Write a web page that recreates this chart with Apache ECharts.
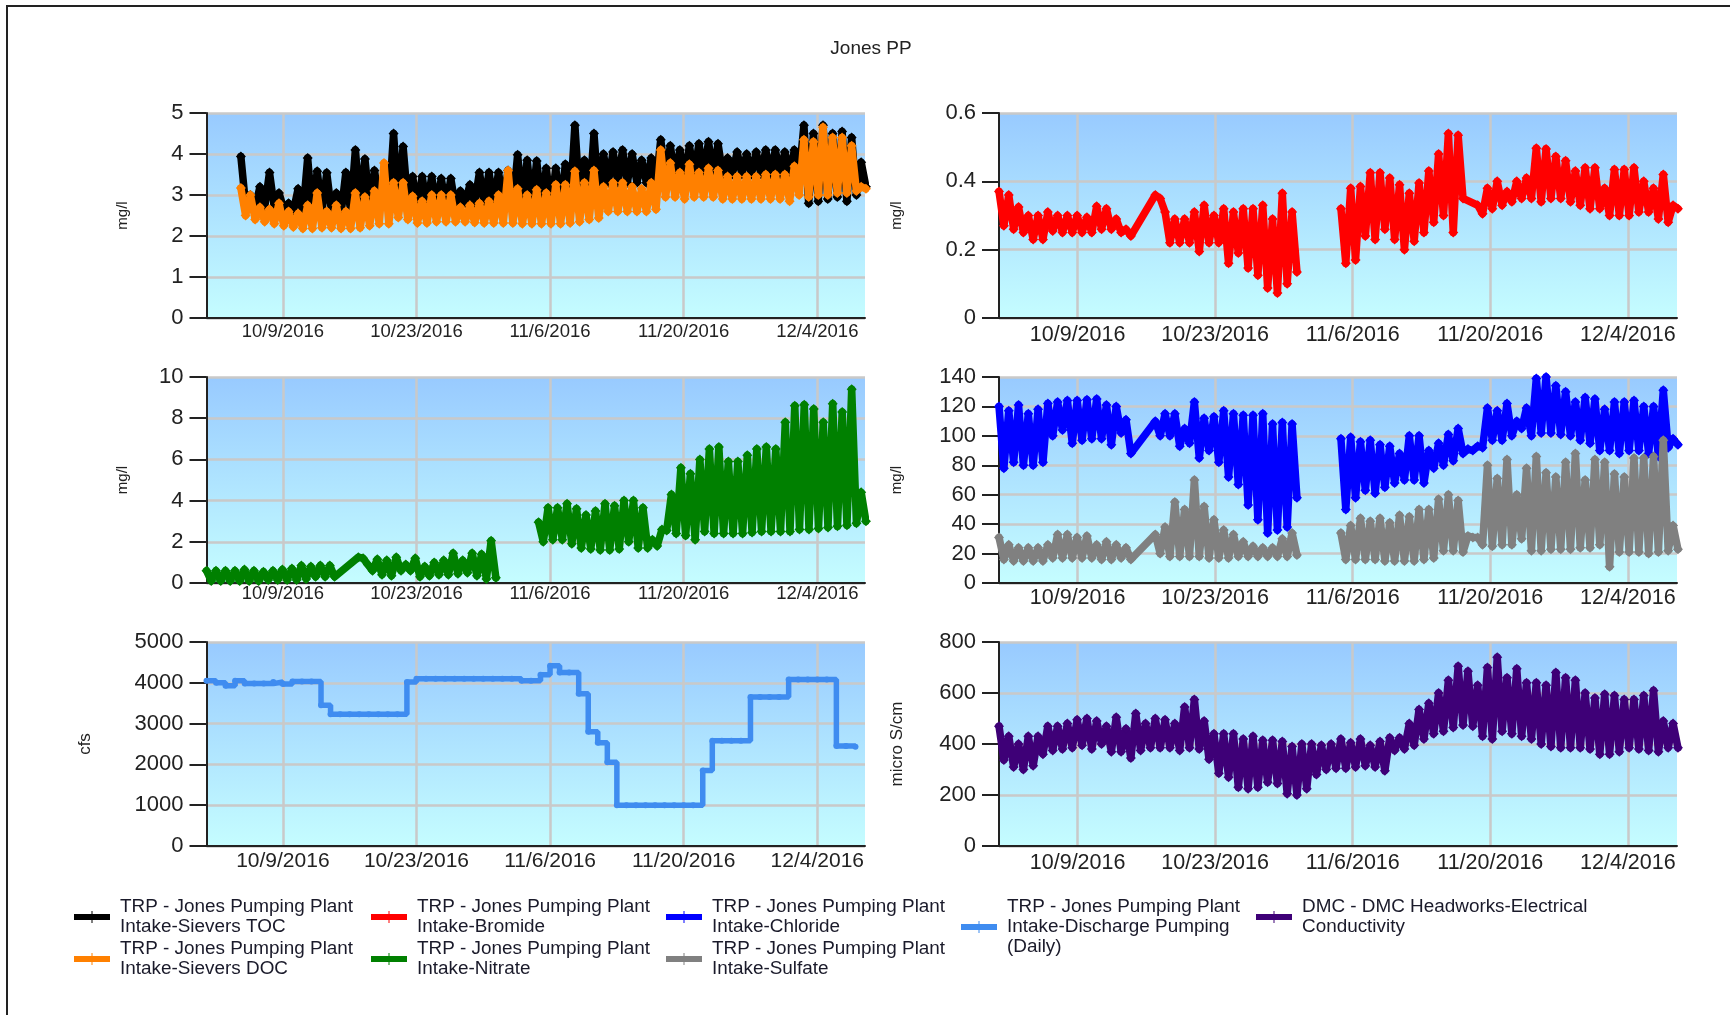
<!DOCTYPE html>
<html>
<head>
<meta charset="utf-8">
<style>html,body{margin:0;padding:0;background:#fff}#c{width:1730px;height:1015px}</style>
<script src="https://cdn.jsdelivr.net/npm/echarts@6/dist/echarts.min.js"></script>
</head>
<body>
<div id="c"></div>
<script>
// x positions are days after 10/1/2016
const xMax = 69;
const tickDays = [8, 22, 36, 50, 64];
const tickLabels = ['10/9/2016', '10/23/2016', '11/6/2016', '11/20/2016', '12/4/2016'];

// Daily peak and trough readings. null = no sample that day.
const tocHigh = [3.94,3.0,3.2,3.55,3.05,2.8,3.15,3.9,3.58,3.54,
 3.05,3.55,4.1,3.88,3.6,3.4,4.5,4.18,3.45,3.45,
 3.45,3.4,3.4,3.1,3.25,3.55,3.55,3.55,3.6,3.98,
 3.85,3.83,3.65,3.65,3.75,4.7,3.85,4.5,4.0,4.05,
 4.1,4.0,3.85,3.9,4.35,4.2,4.1,4.2,4.25,4.3,
 4.25,3.9,4.05,4.0,4.05,4.1,4.1,4.05,4.1,4.7,
 4.5,4.7,4.5,4.55,4.4,3.8];
const tocLow = [2.75,2.7,2.7,2.7,2.65,2.6,2.55,2.55,2.6,2.6,
 2.55,2.6,2.7,2.7,2.8,2.7,2.8,2.8,2.7,2.7,
 2.7,2.7,2.7,2.8,2.8,2.8,2.8,2.8,2.75,2.8,
 2.75,2.75,2.7,2.7,2.75,2.9,2.8,2.9,3.3,3.3,
 3.3,3.3,3.3,3.3,3.4,3.4,3.4,3.5,3.5,3.5,
 3.5,3.5,3.5,3.5,3.5,3.5,3.5,3.5,3.5,2.8,
 2.85,2.9,2.95,2.85,3.0,3.2];
const docHigh = [3.17,3.0,2.7,2.65,2.8,2.6,2.55,2.75,3.05,2.6,
 2.75,2.6,3.05,2.95,3.1,3.78,3.3,3.3,2.97,2.85,
 3.0,3.0,3.0,2.7,2.75,2.8,2.85,3.0,3.6,3.15,
 3.0,3.13,3.05,3.25,3.25,3.58,3.3,3.6,3.2,3.3,
 3.3,3.2,3.15,3.3,4.1,3.78,3.55,3.75,3.55,3.65,
 3.6,3.45,3.45,3.45,3.45,3.5,3.5,3.5,3.7,4.35,
 4.3,4.65,4.4,4.4,4.2,3.2];
const docLow = [2.5,2.4,2.35,2.3,2.25,2.22,2.18,2.18,2.2,2.2,
 2.18,2.18,2.2,2.25,2.3,2.3,2.45,2.4,2.32,2.32,
 2.35,2.35,2.35,2.35,2.33,2.32,2.32,2.32,2.32,2.3,
 2.3,2.3,2.3,2.3,2.32,2.35,2.4,2.44,2.6,2.6,
 2.6,2.6,2.6,2.65,2.95,2.95,2.9,2.95,2.95,2.95,
 2.9,2.9,2.9,2.9,2.9,2.9,2.9,2.85,3.0,2.95,
 3.0,3.0,3.05,3.05,3.1,3.15];

const bromideHigh = [.37,.36,.325,.30,.30,.31,.30,.30,.30,.295,
 .327,.32,.29,.26,null,null,.36,.31,.29,.29,
 .31,.33,.30,.32,.31,.32,.32,.33,.29,.365,
 .31,null,null,null,null,.32,.38,.385,.425,.425,
 .41,.39,.365,.395,.43,.48,.54,.535,null,.33,
 .38,.40,.37,.40,.41,.497,.495,.473,.46,.43,
 .44,.44,.38,.435,.435,.44,.40,.38,.42,.33];
const bromideLow = [.27,.26,.25,.23,.23,.255,.25,.25,.25,.25,
 .26,.26,.25,.24,null,null,.35,.22,.22,.22,
 .195,.22,.22,.16,.19,.146,.125,.088,.073,.10,
 .135,null,null,null,null,.16,.17,.24,.23,.26,
 .23,.20,.225,.25,.28,.30,.25,.35,null,.305,
 .32,.33,.34,.35,.35,.34,.35,.35,.34,.33,
 .32,.32,.30,.30,.30,.31,.31,.29,.28,.32];

const nitrateHigh = [.6,.6,.6,.6,.65,.6,.55,.6,.65,.7,
 .85,.8,.85,.85,null,null,1.25,.9,1.15,1.1,
 1.25,.9,1.2,.8,1.0,1.1,1.45,1.1,1.45,1.4,
 2.05,null,null,null,null,2.95,3.65,3.65,3.85,3.6,
 3.3,3.5,3.85,3.75,4.0,4.0,3.65,2.1,2.6,4.3,
 5.6,5.3,6.0,6.5,6.6,5.9,5.9,6.2,6.5,6.6,
 6.5,7.8,8.6,8.65,8.45,7.8,8.7,8.3,9.4,4.4];
const nitrateLow = [.1,.1,.1,.1,.1,.1,.15,.15,.15,.15,
 .2,.3,.3,.3,null,null,1.2,.6,.4,.35,
 .6,.6,.3,.35,.4,.4,.45,.5,.35,.2,
 .25,null,null,null,null,2.0,2.1,2.1,1.9,1.7,
 1.65,1.6,1.6,1.65,2.0,1.7,1.7,1.8,2.55,2.4,
 2.3,2.1,2.5,2.4,2.4,2.4,2.4,2.45,2.5,2.5,
 2.5,2.5,2.6,2.6,2.65,2.7,2.75,2.8,2.9,3.0];

const chlorideHigh = [120,117,121,115,118,122,123,124,124,124.5,
 125,121,120,111,null,null,110,115,115,105,
 123,112,113,117,115,114,114,115,108,109,
 108,null,null,null,null,98,99,96,97,94,
 93,88,100,100,90,95,101,105,91,93,
 119,117,122,110,119,139,140,134,130,123,
 126,125,118,123,123,124,120,120,131,98];
const chlorideLow = [78,82,80,80,82,100,104,95,97,98,
 98,94,102,88,null,null,100,100,93,95,
 85,90,82,72,67,53,43,34,36,38,
 58,null,null,null,null,50,58,63,61,65,
 68,70,70,68,78,80,83,88,90,92,
 97,97,100,105,100,102,102,101,100,97,
 95,90,90,88,90,90,88,86,92,94];

const sulfateHigh = [31,26,24,24,24,26,33,33,31,32,
 26,28,26,24,null,null,33,38,55,50,
 70,52,43,36,33,28,25,24,24,30,
 34,null,null,null,null,34,39,44,42,44,
 41,46,45,50,50,57,60,56,32,31,
 80,71,84,60,78,86,75,72,82,88,
 70,84,82,74,72,85,85,86,97,39];
const sulfateLow = [16,15,15,15,15,17,17,17,17,17,
 16,16,17,16,null,null,20,18,18,18,
 18,17,17,17,18,18,18,18,18,18,
 19,null,null,null,null,16,16,16,16,15,
 15,15,15,16,17,22,22,21,31,26,
 25,26,26,30,22,22,23,23,23,24,
 24,26,11,21,21,21,20,21,22,23];

const dischargeDaily = [4050,4000,3930,4050,3980,3980,3980,4020,3970,4030,
 4030,4030,3450,3230,3230,3230,3230,3230,3230,3230,
 3230,4020,4100,4100,4100,4100,4100,4100,4100,4100,
 4100,4100,4100,4050,4050,4200,4420,4250,4250,3730,
 2800,2530,2050,1000,1000,1000,1000,1000,1000,1000,
 1000,1000,1850,2580,2580,2580,2580,3650,3650,3650,
 3650,4080,4080,4080,4080,4080,2450,2450,2430];

const conductivityHigh = [470,430,400,430,430,470,470,480,495,500,
 490,470,505,460,520,480,500,495,480,545,
 575,490,440,440,440,420,430,415,415,410,
 390,400,400,395,400,420,405,420,395,410,
 425,425,480,535,560,600,650,705,685,630,
 700,740,660,695,640,640,630,680,660,650,
 600,580,595,590,575,575,590,610,490,480];
const conductivityLow = [337,310,300,315,360,375,380,385,395,380,
 400,370,370,345,375,385,385,385,375,385,
 380,340,285,270,230,225,230,250,245,205,
 200,225,280,300,305,305,310,315,310,295,
 375,380,395,420,440,450,465,475,470,430,
 420,450,440,430,420,400,390,385,385,385,
 380,360,360,370,385,380,375,370,385,385];

const seriesNames = {
  toc: 'TRP - Jones Pumping Plant\nIntake-Sievers TOC',
  doc: 'TRP - Jones Pumping Plant\nIntake-Sievers DOC',
  bromide: 'TRP - Jones Pumping Plant\nIntake-Bromide',
  nitrate: 'TRP - Jones Pumping Plant\nIntake-Nitrate',
  chloride: 'TRP - Jones Pumping Plant\nIntake-Chloride',
  sulfate: 'TRP - Jones Pumping Plant\nIntake-Sulfate',
  discharge: 'TRP - Jones Pumping Plant\nIntake-Discharge Pumping\n(Daily)',
  conductivity: 'DMC - DMC Headworks-Electrical\nConductivity'
};

function swing(first, last, highs, lows) {
  const step = (last - first) / (highs.length - 1);
  const out = [];
  let prev = null;
  highs.forEach((h, i) => {
    if (h === null) return;
    const t = first + i * step;
    if (prev !== null && t - prev > 3) out.push([t - 1, null]);
    out.push([t, h]);
    out.push([t + step / 2, lows[i]]);
    prev = t + step / 2;
  });
  return out;
}

const panels = [
  {l:206.5,w:658.5,t:113,h:205,max:5,iv:1,name:'mg/l',gap:76,ns:15,fs:18.5,xm:4},
  {l:999,w:678,t:113,h:205,max:.6,iv:.2,name:'mg/l',gap:95,ns:15,fs:21.5,xm:6},
  {l:206.5,w:658.5,t:377,h:206,max:10,iv:2,name:'mg/l',gap:76,ns:15,fs:18.5,xm:1},
  {l:999,w:678,t:377,h:206,max:140,iv:20,name:'mg/l',gap:95,ns:15,fs:21.5,xm:4},
  {l:206.5,w:658.5,t:642,h:204,max:5000,iv:1000,name:'cfs',gap:113,ns:17,fs:21,xm:5},
  {l:999,w:678,t:642,h:204,max:800,iv:200,name:'micro S/cm',gap:93,ns:17,fs:21.5,xm:6}
];
const ink = '#222';
const gridLine = '#c9c9c9';
const font = '"Liberation Sans", Arial, sans-serif';
const bg = {type:'linear',x:0,y:0,x2:0,y2:1,colorStops:[{offset:0,color:'#98caff'},{offset:1,color:'#c5fdff'}]};

function band(name, color, xi, data, z) {
  return {name, type:'line', xAxisIndex:xi, yAxisIndex:xi, data, clip:false, z,
    lineStyle:{color,width:7.5,join:'round',cap:'round'}, itemStyle:{color},
    symbol:'diamond', symbolSize:10, showAllSymbol:true, silent:true,
    emphasis:{disabled:true}, animation:false};
}
const glyph = 'path://M0 3H36V9H0Z M17.5 0H18.5V12H17.5Z';
function legendCol(left, names) {
  return {left, top:897, orient:'vertical', data:names.map(n=>({name:n,icon:glyph})), selectedMode:false,
    itemWidth:36, itemHeight:12, itemGap:2, padding:0,
    textStyle:{fontFamily:font,fontSize:18.9,lineHeight:20,color:'#1a1a2a',padding:[0,0,0,5]}};
}

const option = {
  backgroundColor:'#fff',
  animation:false,
  title:{text:'Jones PP',left:866,top:34,textAlign:'center',textStyle:{fontFamily:font,fontSize:19,fontWeight:'normal',color:'#222'}},
  graphic:[{type:'rect',shape:{x:7,y:6,width:1800,height:1100},style:{fill:'none',stroke:'#222',lineWidth:2},silent:true}],
  legend:[
    legendCol(74,[seriesNames.toc,seriesNames.doc]),
    legendCol(371,[seriesNames.bromide,seriesNames.nitrate]),
    legendCol(666,[seriesNames.chloride,seriesNames.sulfate]),
    legendCol(961,[seriesNames.discharge]),
    legendCol(1256,[seriesNames.conductivity])
  ],
  grid:panels.map(p=>({left:p.l,top:p.t,width:p.w,height:p.h,show:true,backgroundColor:bg,borderWidth:0,containLabel:false})),
  xAxis:panels.map((p,i)=>({
    type:'value',gridIndex:i,min:0,max:xMax,
    axisLine:{show:true,onZero:false,lineStyle:{color:ink,width:2}},
    axisTick:{show:false,customValues:tickDays},
    splitLine:{show:true,lineStyle:{color:gridLine,width:2.5}},
    axisLabel:{customValues:tickDays,margin:p.xm,fontFamily:font,fontSize:p.fs,color:'#222',
      formatter:v=>tickLabels[tickDays.indexOf(v)]||''}
  })),
  yAxis:panels.map((p,i)=>({
    type:'value',gridIndex:i,min:0,max:p.max,interval:p.iv,
    name:p.name,nameLocation:'middle',nameGap:p.gap,
    nameTextStyle:{fontFamily:font,fontSize:p.ns,color:'#222'},
    axisLine:{show:true,lineStyle:{color:ink,width:2}},
    axisTick:{show:true,length:17,lineStyle:{color:ink,width:2}},
    splitLine:{show:true,lineStyle:{color:gridLine,width:2.5}},
    axisLabel:{margin:23,fontFamily:font,fontSize:22,color:'#222',formatter:v=>String(v)}
  })),
  series:[
    band(seriesNames.toc,'#000000',0,swing(3.6,68.6,tocHigh,tocLow),2),
    band(seriesNames.doc,'#ff8000',0,swing(3.6,68.6,docHigh,docLow),3),
    band(seriesNames.bromide,'#ff0000',1,swing(0,68.6,bromideHigh,bromideLow),2),
    band(seriesNames.nitrate,'#008000',2,swing(0,68.6,nitrateHigh,nitrateLow),2),
    band(seriesNames.chloride,'#0000ff',3,swing(0,68.6,chlorideHigh,chlorideLow),2),
    band(seriesNames.sulfate,'#808080',3,swing(0,68.6,sulfateHigh,sulfateLow),3),
    {name:seriesNames.discharge,type:'line',xAxisIndex:4,yAxisIndex:4,step:'end',
     data:dischargeDaily.map((v,d)=>[d,v]),clip:false,
     lineStyle:{color:'#3f8cf0',width:5.5},itemStyle:{color:'#3f8cf0'},symbol:'circle',symbolSize:6,showAllSymbol:true,silent:true},
    band(seriesNames.conductivity,'#3e0077',5,swing(0,68.6,conductivityHigh,conductivityLow),2)
  ]
};
const chart = echarts.init(document.getElementById('c'),null,{renderer:'canvas'});
chart.setOption(option);
</script>
</body>
</html>
